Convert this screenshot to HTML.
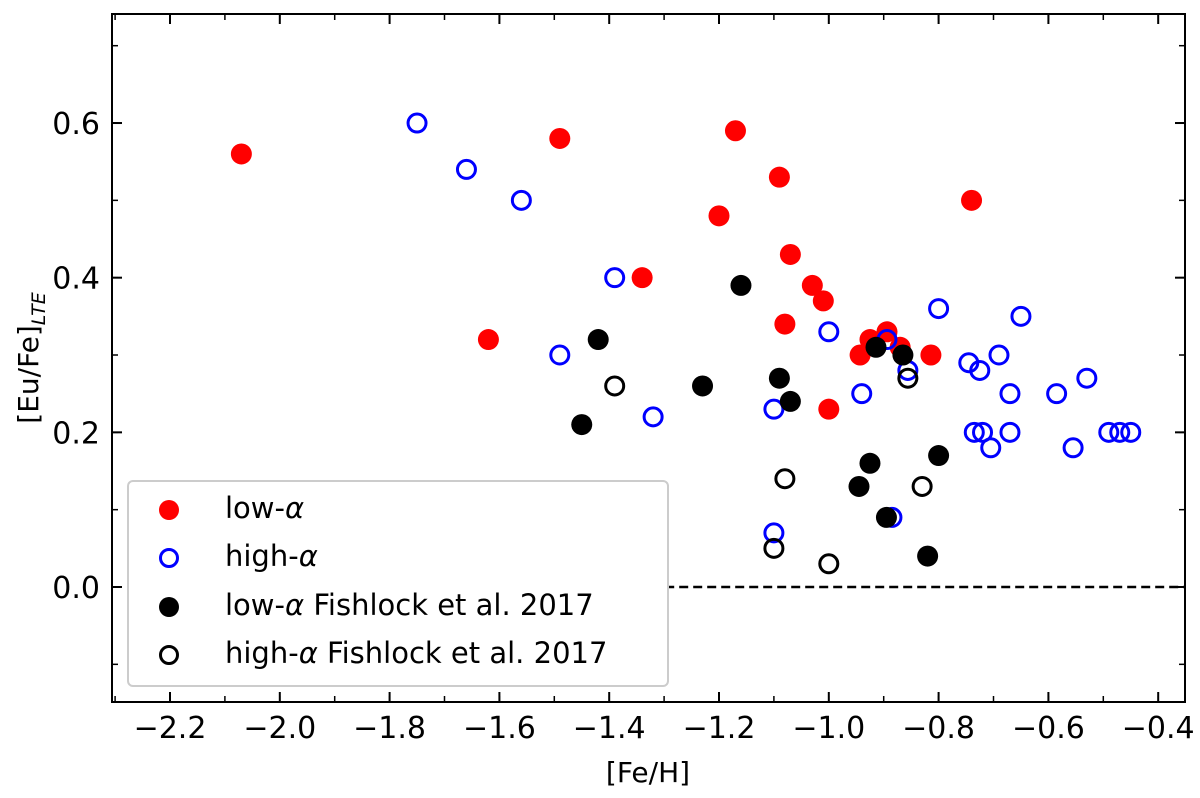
<!DOCTYPE html>
<html><head><meta charset="utf-8"><style>
body{margin:0;background:#fff}
svg text{font-family:"DejaVu Sans","Liberation Sans",sans-serif;fill:#000}
</style></head><body>
<svg id="chart" width="1200" height="793" viewBox="0 0 1200 793">
<g id="marks"></g>
<rect x="112" y="14" width="1073" height="688" fill="none" stroke="#000" stroke-width="2"/>
<g id="axes"></g>
<text x="648" y="782" font-size="28" text-anchor="middle">[Fe/H]</text>
<text transform="translate(38,358) rotate(-90)" font-size="28" text-anchor="middle">[Eu/Fe]<tspan font-size="19" font-style="italic" dy="7">LTE</tspan></text>
<g>
<rect x="128" y="481" width="540" height="205" rx="5" fill="#fff" stroke="#ccc" stroke-width="2"/>
<circle cx="169" cy="510" r="10" fill="red"/>
<text x="225" y="518" font-size="29">low-<tspan font-style="italic">α</tspan></text>
<circle cx="169" cy="558" r="8.5" fill="none" stroke="blue" stroke-width="3"/>
<text x="225" y="566" font-size="29">high-<tspan font-style="italic">α</tspan></text>
<circle cx="169" cy="607" r="10" fill="#000"/>
<text x="225" y="615" font-size="29">low-<tspan font-style="italic">α</tspan> Fishlock et al. 2017</text>
<circle cx="169" cy="655" r="8.5" fill="none" stroke="#000" stroke-width="3"/>
<text x="225" y="663" font-size="29">high-<tspan font-style="italic">α</tspan> Fishlock et al. 2017</text>
</g>
</svg>
<script>
const lowX=[-2.07,-1.62,-1.49,-1.34,-1.20,-1.17,-1.09,-1.08,-1.07,-1.03,-1.01,-1.00,-0.943,-0.925,-0.894,-0.870,-0.814,-0.74];
const lowY=[0.56,0.32,0.58,0.40,0.48,0.59,0.53,0.34,0.43,0.39,0.37,0.23,0.30,0.32,0.33,0.31,0.30,0.50];
const highX=[-1.75,-1.66,-1.56,-1.39,-1.49,-1.32,-1.10,-1.10,-1.00,-0.94,-0.894,-0.885,-0.856,-0.80,-0.745,-0.735,-0.725,-0.72,-0.705,-0.69,-0.67,-0.67,-0.65,-0.585,-0.555,-0.53,-0.49,-0.47,-0.45];
const highY=[0.60,0.54,0.50,0.40,0.30,0.22,0.23,0.07,0.33,0.25,0.32,0.09,0.28,0.36,0.29,0.20,0.28,0.20,0.18,0.30,0.25,0.20,0.35,0.25,0.18,0.27,0.20,0.20,0.20];
const fLowX=[-1.45,-1.42,-1.23,-1.16,-1.09,-1.07,-0.945,-0.925,-0.914,-0.895,-0.865,-0.82,-0.80];
const fLowY=[0.21,0.32,0.26,0.39,0.27,0.24,0.13,0.16,0.31,0.09,0.30,0.04,0.17];
const fHighX=[-1.39,-1.10,-1.08,-1.00,-0.856,-0.83];
const fHighY=[0.26,0.05,0.14,0.03,0.27,0.13];
const xTicks=[-2.2,-2.0,-1.8,-1.6,-1.4,-1.2,-1.0,-0.8,-0.6,-0.4];
const yTicks=[0.0,0.2,0.4,0.6];
const xs=v=>170+(v+2.2)*549;
const ys=v=>587-v*773.3;
const NS="http://www.w3.org/2000/svg";
const marks=document.getElementById('marks'),axes=document.getElementById('axes');
function mk(tag,at,parent){const e=document.createElementNS(NS,tag);for(const k in at)e.setAttribute(k,at[k]);parent.appendChild(e);return e;}
const zl=mk('line',{x1:xs(-1.4),x2:1185,y1:ys(0),y2:ys(0),stroke:'#000','stroke-width':2.5,'stroke-dasharray':'9,5'},marks);


function series(X,Y,fill,stroke,name){X.forEach((x,i)=>{const c=mk('circle',{cx:xs(x),cy:ys(Y[i]),r:fill==='none'?9:10.5,fill:fill,stroke:stroke,'stroke-width':fill==='none'?3:0},marks);

});}
series(lowX,lowY,'red','none','point-low-alpha');
series(highX,highY,'none','blue','point-high-alpha');
series(fLowX,fLowY,'#000','none','point-fishlock-low-alpha');
series(fHighX,fHighY,'none','#000','point-fishlock-high-alpha');
xTicks.forEach(t=>{const x=xs(t);
mk('line',{x1:x,x2:x,y1:702,y2:692,stroke:'#000','stroke-width':2},axes);
mk('line',{x1:x,x2:x,y1:14,y2:24,stroke:'#000','stroke-width':2},axes);
const tx=mk('text',{x:x,y:738,'font-size':30,'text-anchor':'middle'},axes);tx.textContent=(t<0?'−':'')+Math.abs(t).toFixed(1);

});
for(let t=-2.3;t<=-0.3;t+=0.1){const x=xs(t);if(x<112||x>1185)continue;
mk('line',{x1:x,x2:x,y1:702,y2:696,stroke:'#000','stroke-width':1.5},axes);mk('line',{x1:x,x2:x,y1:14,y2:20,stroke:'#000','stroke-width':1.5},axes);}
yTicks.forEach(t=>{const y=ys(t);
mk('line',{x1:112,x2:122,y1:y,y2:y,stroke:'#000','stroke-width':2},axes);
mk('line',{x1:1185,x2:1175,y1:y,y2:y,stroke:'#000','stroke-width':2},axes);
const tx=mk('text',{x:100,y:y+11,'font-size':30,'text-anchor':'end'},axes);tx.textContent=t.toFixed(1);

});
for(let t=-0.1;t<=0.75;t+=0.1){const y=ys(t);if(y<14||y>702)continue;
mk('line',{x1:112,x2:118,y1:y,y2:y,stroke:'#000','stroke-width':1.5},axes);mk('line',{x1:1185,x2:1179,y1:y,y2:y,stroke:'#000','stroke-width':1.5},axes);}
</script>
</body></html>
